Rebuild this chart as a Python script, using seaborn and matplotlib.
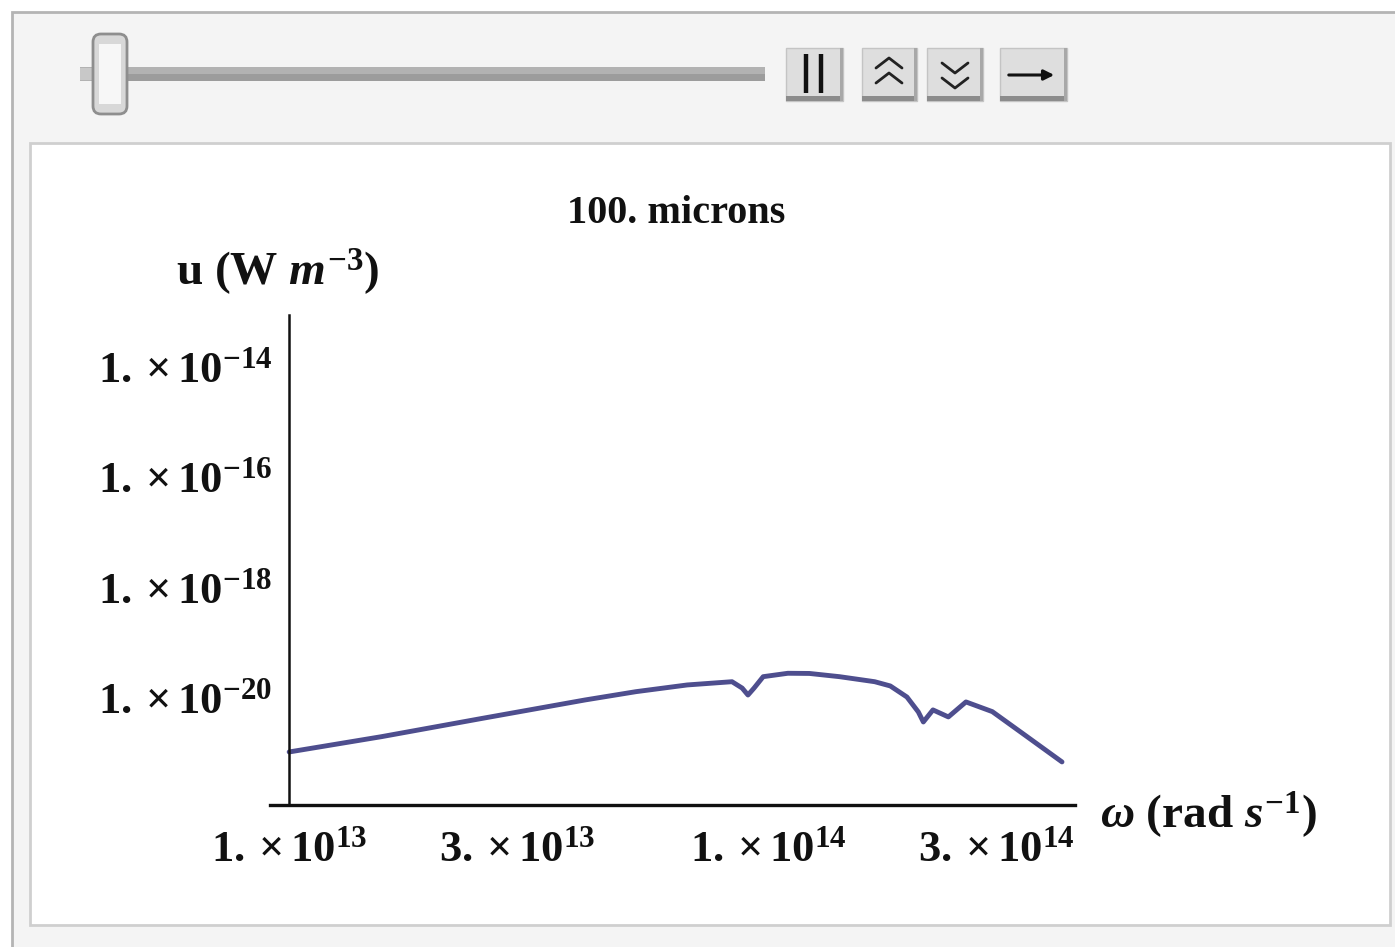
import numpy as np
import pandas as pd
import matplotlib
matplotlib.use("Agg")
import matplotlib.pyplot as plt
import seaborn as sns
from matplotlib.patches import Rectangle, FancyBboxPatch
from matplotlib.ticker import NullLocator

# ---- data ----
omega = [1.00e13, 1.56e13, 2.54e13, 4.15e13, 5.30e13, 6.78e13, 8.41e13, 8.83e13,
         9.08e13, 9.35e13, 9.77e13, 1.10e14, 1.22e14, 1.41e14, 1.67e14, 1.80e14,
         1.95e14, 2.06e14, 2.11e14, 2.21e14, 2.38e14, 2.59e14, 2.94e14, 3.39e14,
         4.11e14]
u = [1.05e-21, 1.99e-21, 4.29e-21, 9.2e-21, 1.30e-20, 1.72e-20, 1.97e-20, 1.51e-20,
     1.13e-20, 1.51e-20, 2.43e-20, 2.80e-20, 2.78e-20, 2.43e-20, 1.97e-20, 1.65e-20,
     1.04e-20, 5.57e-21, 3.67e-21, 6.07e-21, 4.53e-21, 8.47e-21, 5.65e-21, 2.32e-21,
     6.93e-22]
xticks = [1e13, 3e13, 1e14, 3e14]
xticklabels = [r"$1.\times10^{13}$", r"$3.\times10^{13}$", r"$1.\times10^{14}$", r"$3.\times10^{14}$"]
yticks = [1e-20, 1e-18, 1e-16, 1e-14]
yticklabels = [r"$1.\times10^{-20}$", r"$1.\times10^{-18}$", r"$1.\times10^{-16}$", r"$1.\times10^{-14}$"]
title = "100. microns"
ylabel = r"u (W $m^{-3}$)"
xlabel = r"$\omega$ (rad $s^{-1}$)"

sns.set_style("white")
plt.rcParams["font.family"] = ["Liberation Serif", "DejaVu Serif"]
plt.rcParams["font.weight"] = "bold"
plt.rcParams["mathtext.fontset"] = "custom"
plt.rcParams["mathtext.rm"] = "Liberation Serif:bold"
plt.rcParams["mathtext.it"] = "Liberation Serif:italic:bold"
plt.rcParams["mathtext.bf"] = "Liberation Serif:bold"

W, H = 1395, 947
fig = plt.figure(figsize=(W / 100, H / 100), dpi=100)
fig.patch.set_facecolor("#ffffff")

# background / widget axes in pixel coordinates
bg = fig.add_axes([0, 0, 1, 1])
bg.set_xlim(0, W)
bg.set_ylim(H, 0)
bg.axis("off")
bg.set_zorder(0)

# outer frame and control area
bg.add_patch(Rectangle((12, 12), W + 20, H - 8, facecolor="#f4f4f4", edgecolor="#b4b4b4", lw=2))
# plot panel
bg.add_patch(Rectangle((30, 143), 1360, 782, facecolor="#ffffff", edgecolor="#cfcfcf", lw=2))

# slider track
bg.add_patch(Rectangle((80, 67), 685, 14, facecolor="#b2b2b2", edgecolor="none"))
bg.add_patch(Rectangle((125, 74), 640, 7, facecolor="#9c9c9c", edgecolor="none"))
bg.add_patch(Rectangle((80, 68), 45, 12, facecolor="#c8c8c8", edgecolor="none"))
# slider thumb
bg.add_patch(FancyBboxPatch((93, 34), 34, 80, boxstyle="round,pad=0,rounding_size=8",
                            facecolor="#d8d8d8", edgecolor="#8e8e8e", lw=2))
bg.add_patch(Rectangle((99, 44), 22, 60, facecolor="#f7f7f7", edgecolor="none"))

# buttons
def button(x0, x1, y0=48, y1=101):
    bg.add_patch(Rectangle((x0, y0), x1 - x0, y1 - y0, facecolor="#dedede", edgecolor="#c4c4c4", lw=1))
    bg.add_patch(Rectangle((x0, y1 - 5), x1 - x0, 5, facecolor="#8c8c8c", edgecolor="none"))
    bg.add_patch(Rectangle((x1 - 3, y0), 3, y1 - y0, facecolor="#a8a8a8", edgecolor="none"))

button(786, 843)
bg.plot([806, 806], [54, 93], color="#111111", lw=3.2, solid_capstyle="butt")
bg.plot([821, 821], [54, 93], color="#111111", lw=3.2, solid_capstyle="butt")
button(862, 917)
for yy in (68, 83):
    bg.plot([876, 889, 902], [yy, yy - 10, yy], color="#222222", lw=2)
button(927, 983)
for yy in (63, 78):
    bg.plot([942, 955, 968], [yy, yy + 10, yy], color="#222222", lw=2)
button(1000, 1067)
bg.annotate("", xy=(1057, 75), xytext=(1006, 75),
            arrowprops=dict(arrowstyle="-|>,head_length=0.6,head_width=0.3", color="#111111", lw=2.2))

# texts
bg.text(676, 213, title, ha="center", va="center", fontsize=29, fontweight="bold", color="#111111")
bg.text(176, 272, ylabel, ha="left", va="center", fontsize=34, fontweight="bold", color="#111111")
bg.text(1100, 815, xlabel, ha="left", va="center", fontsize=34, fontweight="bold", color="#111111")

# ---- plot axes ----
ax = fig.add_axes([270 / W, 1 - 805 / H, 805 / W, 490 / H])
ax.set_zorder(1)
ax.patch.set_alpha(0)

df = pd.DataFrame({"omega": omega, "u": u})
sns.lineplot(data=df, x="omega", y="u", ax=ax, color="#4e4e8e", lw=3.5, sort=False, estimator=None)
ax.set_xscale("log")
ax.set_yscale("log")
ax.set_xlim(10 ** 12.96, 10 ** 14.641)
ax.set_ylim(10 ** -21.94, 10 ** -13.06)
ax.set_xlabel("")
ax.set_ylabel("")
ax.set_xticks(xticks)
ax.set_xticklabels(xticklabels)
ax.set_yticks(yticks)
ax.set_yticklabels(yticklabels)
ax.xaxis.set_minor_locator(NullLocator())
ax.yaxis.set_minor_locator(NullLocator())
for s in ("top", "right"):
    ax.spines[s].set_visible(False)
ax.spines["left"].set_position(("data", 1e13))
ax.spines["left"].set_linewidth(1.8)
ax.spines["bottom"].set_linewidth(2.4)
ax.spines["left"].set_color("#111111")
ax.spines["bottom"].set_color("#111111")
ax.tick_params(axis="both", direction="in", length=6, width=1.3, colors="#111111", labelsize=32)
ax.tick_params(axis="y", pad=12)
ax.tick_params(axis="x", pad=18)

fig.savefig("out.png", dpi=100)
